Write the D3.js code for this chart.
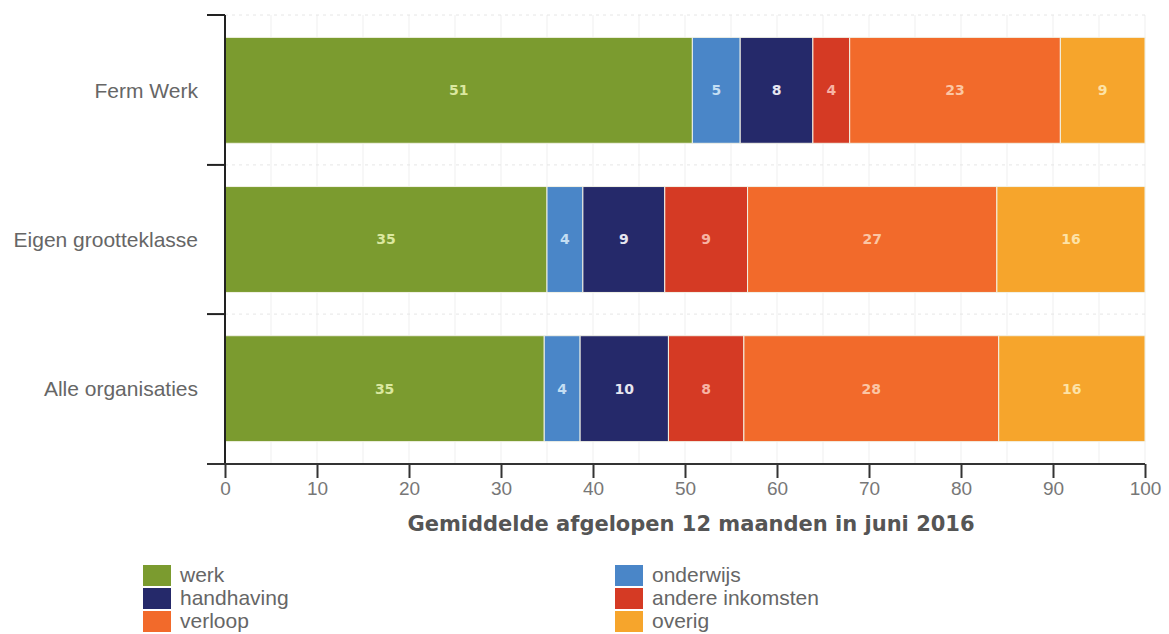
<!DOCTYPE html>
<html><head><meta charset="utf-8">
<script src="https://cdn.jsdelivr.net/npm/d3@7"></script>
<style>body{margin:0;background:#fff;}svg{display:block;}</style>
</head><body>
<svg id="chart" width="1169" height="634"></svg>
<script>
const categories = ["Ferm Werk", "Eigen grootteklasse", "Alle organisaties"];
const seriesNames = ["werk", "onderwijs", "handhaving", "andere inkomsten", "verloop", "overig"];
const werk = [50.8, 35.0, 34.7];
const onderwijs = [5.2, 3.9, 3.9];
const handhaving = [7.9, 8.9, 9.6];
const andereInkomsten = [4.0, 9.0, 8.2];
const verloop = [22.9, 27.1, 27.7];
const overig = [9.2, 16.1, 15.9];
const xTicks = [0, 10, 20, 30, 40, 50, 60, 70, 80, 90, 100];
const xTitle = "Gemiddelde afgelopen 12 maanden in juni 2016";

const colors = ["#7b9b2f", "#4a86c8", "#25296a", "#d53a24", "#f26a2b", "#f6a52c"];
const labelColors = ["#dbe8a0", "#c4def3", "#e6e6f0", "#f7b4a4", "#fbc6a4", "#fde2a6"];

const seriesVals = [werk, onderwijs, handhaving, andereInkomsten, verloop, overig];
const rows = categories.map((c, i) => {
  const o = {cat: c};
  seriesNames.forEach((s, j) => o[s] = seriesVals[j][i]);
  return o;
});
const stacked = d3.stack().keys(seriesNames)(rows);

const svg = d3.select("#chart");
const mL = 225, mR = 1145, mT = 15, mB = 464;
const x = d3.scaleLinear().domain([0, 100]).range([mL, mR]);
const y = d3.scaleBand().domain(categories).range([mT, mB]).paddingInner(0.29).paddingOuter(0.15);

// grid
const grid = svg.append("g");
grid.selectAll("line").data(d3.range(0, 101, 5)).join("line")
  .attr("x1", d => x(d)).attr("x2", d => x(d)).attr("y1", mT).attr("y2", mB)
  .attr("stroke", "#efefef").attr("stroke-width", 1);
const bounds = [mT, ...categories.slice(1).map(c => y(c) - y.step() * y.paddingInner() / 2), mB];
svg.append("g").selectAll("line").data(bounds).join("line")
  .attr("x1", mL).attr("x2", mR).attr("y1", d => d).attr("y2", d => d)
  .attr("stroke", "#e6e6e6").attr("stroke-dasharray", "3,4");

// bars
const layers = svg.append("g").selectAll("g").data(stacked).join("g")
  .attr("fill", (d, i) => colors[i]);
layers.selectAll("rect").data(d => d).join("rect")
  .attr("x", d => x(d[0])).attr("width", d => x(d[1]) - x(d[0]))
  .attr("y", d => y(d.data.cat)).attr("height", y.bandwidth())
  .attr("stroke", "#f2f2e6").attr("stroke-width", 1);

// labels
stacked.forEach((layer, i) => {
  svg.append("g").selectAll("text").data(layer).join("text")
    .attr("x", d => (x(d[0]) + x(d[1])) / 2)
    .attr("y", d => y(d.data.cat) + y.bandwidth() / 2)
    .attr("dy", "0.35em").attr("text-anchor", "middle")
    .attr("font-family", "DejaVu Sans, sans-serif").attr("font-weight", "bold")
    .attr("font-size", 14).attr("fill", labelColors[i])
    .text(d => Math.round(d[1] - d[0]));
});

// y axis
svg.append("line").attr("x1", mL).attr("x2", mL).attr("y1", mT).attr("y2", mB)
  .attr("stroke", "#222").attr("stroke-width", 2);
svg.append("g").selectAll("line").data(bounds).join("line")
  .attr("x1", 207).attr("x2", mL).attr("y1", d => d).attr("y2", d => d)
  .attr("stroke", "#222").attr("stroke-width", 2);
svg.append("g").selectAll("text").data(categories).join("text")
  .attr("x", 198).attr("y", d => y(d) + y.bandwidth() / 2).attr("dy", "0.35em")
  .attr("text-anchor", "end").attr("font-family", "Liberation Sans, Arial, sans-serif")
  .attr("font-size", 21).attr("fill", "#666").text(d => d);

// x axis
const xAxis = svg.append("g").attr("transform", `translate(0,${mB})`)
  .call(d3.axisBottom(x).tickValues(xTicks).tickSize(14).tickPadding(4));
xAxis.select(".domain").attr("d", `M207,0H${mR}`).attr("stroke", "#333").attr("stroke-width", 2);
xAxis.selectAll(".tick line").attr("stroke", "#333").attr("stroke-width", 2);
xAxis.selectAll(".tick text").attr("font-family", "Liberation Sans, Arial, sans-serif")
  .attr("font-size", 19).attr("fill", "#777");
svg.append("text").attr("x", 691).attr("y", 531).attr("text-anchor", "middle")
  .attr("font-family", "DejaVu Sans, sans-serif").attr("font-weight", "bold")
  .attr("font-size", 21).attr("fill", "#555").text(xTitle);

// legend
const legendPos = [[143, 565], [615, 565], [143, 588], [615, 588], [143, 611], [615, 611]];
const lg = svg.append("g").selectAll("g").data(seriesNames).join("g")
  .attr("transform", (d, i) => `translate(${legendPos[i][0]},${legendPos[i][1]})`);
lg.append("rect").attr("width", 28).attr("height", 21).attr("fill", (d, i) => colors[i]);
lg.append("text").attr("x", 37).attr("y", 10).attr("dy", "0.35em")
  .attr("font-family", "Liberation Sans, Arial, sans-serif").attr("font-size", 21)
  .attr("fill", "#666").text(d => d);
</script>
</body></html>
